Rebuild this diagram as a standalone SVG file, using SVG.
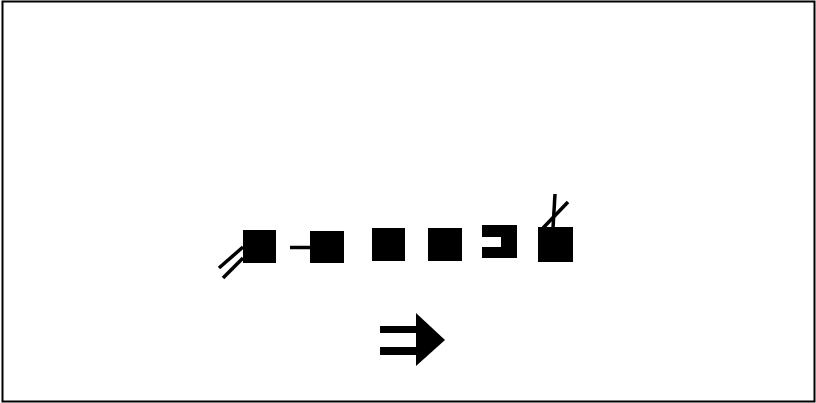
<svg xmlns="http://www.w3.org/2000/svg" width="816" height="403" viewBox="0 0 816 403">
<style>
.sq{fill:#000}
.ln{stroke:#000;stroke-width:3.5;fill:none}
</style>
<rect x="0" y="0" width="816" height="403" fill="#fff"/>
<rect x="2.5" y="1.5" width="812" height="400" fill="none" stroke="#000" stroke-width="2"/>
<g id="sym1">
<rect class="sq" x="243" y="230" width="33" height="33"/>
<line class="ln" x1="219" y1="268" x2="243" y2="247"/>
<line class="ln" x1="223" y1="278" x2="243" y2="258"/>
</g>
<g id="sym2">
<rect class="sq" x="310" y="231" width="34" height="32"/>
<line class="ln" x1="290" y1="247.5" x2="310" y2="247.5"/>
</g>
<g id="sym3">
<rect class="sq" x="372" y="228" width="33" height="33"/>
</g>
<g id="sym4">
<rect class="sq" x="428" y="228" width="34" height="33"/>
</g>
<g id="sym5">
<path class="sq" d="M482 225H517V258H482V247H501V237H482Z"/>
</g>
<g id="sym6">
<rect class="sq" x="538" y="227" width="35" height="35"/>
<line class="ln" x1="555" y1="194" x2="553" y2="228"/>
<line class="ln" x1="543" y1="228" x2="568" y2="202"/>
</g>
<g id="arrow">
<rect class="sq" x="380" y="326" width="38" height="7"/>
<rect class="sq" x="380" y="347" width="38" height="8"/>
<polygon class="sq" points="416,313 445,340 416,366"/>
</g>
</svg>
